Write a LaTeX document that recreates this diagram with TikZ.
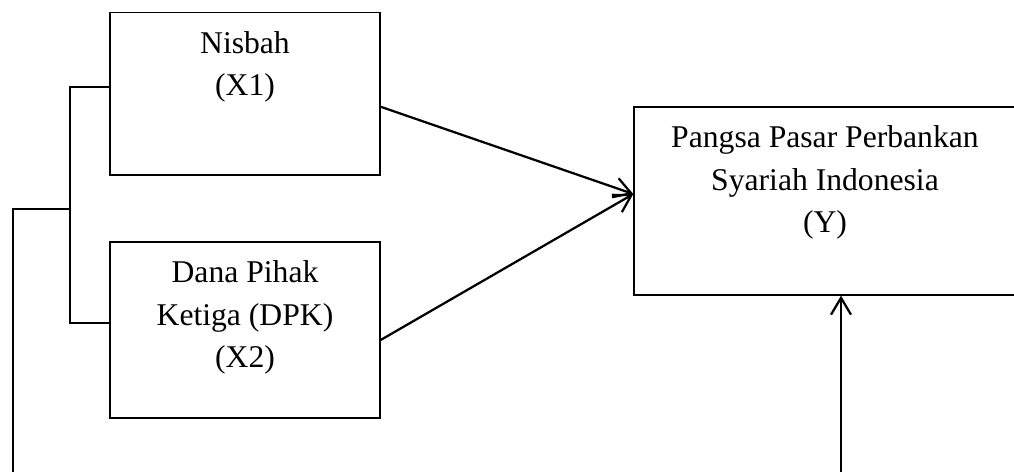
\documentclass[tikz,border=0pt]{standalone}
\usepackage{fontspec}
\setmainfont{Liberation Serif}
\usepackage{tikz}
\usetikzlibrary{arrows.meta, positioning, calc}
\newcommand{\boxlabel}[3]{\parbox[c][#1][t]{#2}{\centering\vspace*{0.284cm}\strut #3}}
\tikzset{
    varbox/.style={
        rectangle,
        draw=black,
        line width=0.9pt,
        inner sep=0pt
    },
    link/.style={line width=1pt},
    arrow/.style={line width=1.6pt, -{Straight Barb[length=4.2mm, width=5mm, line width=1.6pt]}}
}
\begin{document}
\begin{tikzpicture}[x=0.025cm, y=-0.025cm, font=\fontsize{22.5}{30}\selectfont]
    \useasboundingbox (0,0) rectangle (1014,472);

    \node (x1) [varbox, minimum width=6.75cm, minimum height=4.0625cm] at (245,93.75)
        {\boxlabel{4.0625cm}{6.75cm}{Nisbah\\(X1)}};
    \node (x2) [varbox, minimum width=6.75cm, minimum height=4.4cm] at (245,330)
        {\boxlabel{4.4cm}{6.75cm}{Dana Pihak\\Ketiga (DPK)\\(X2)}};
    \node (y) [varbox, minimum width=9.55cm, minimum height=4.7cm] at (825,201)
        {\boxlabel{4.7cm}{9.55cm}{Pangsa Pasar Perbankan\\Syariah Indonesia\\(Y)}};

    \coordinate (brk) at (70,209);
    \coordinate (left) at (13,209);
    \coordinate (leftend) at (13,472);
    \coordinate (botstart) at (841,472);

    % bracket joining X1 and X2
    \draw [link] ([yshift=1.7mm]x1.west) -| (brk) |- ([yshift=1.75mm]x2.west);
    \draw [link] (brk) -- (left) -- (leftend);

    \draw [arrow] ([yshift=-3.25mm]x1.east) -- ([yshift=1.75mm]y.west);
    \draw [arrow] ([yshift=-2.5mm]x2.east) -- ([yshift=1.75mm]y.west);
    \draw [arrow] (botstart) -- (botstart |- y.south);

\end{tikzpicture}
\end{document}
